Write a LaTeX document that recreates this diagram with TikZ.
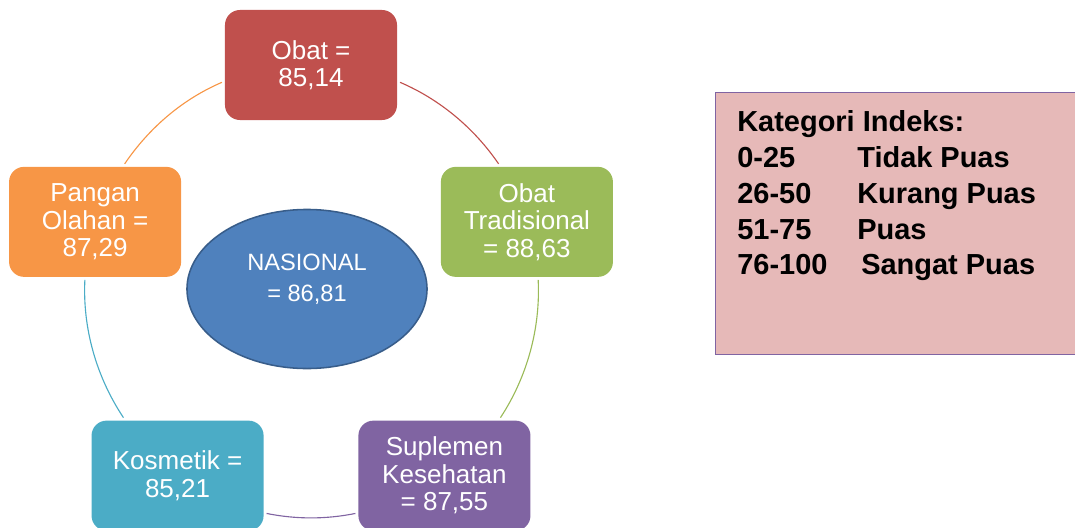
\documentclass[tikz,border=0pt]{standalone}
\usepackage{fontspec}
\setmainfont{Liberation Sans}
\usetikzlibrary{shapes.geometric,positioning}

\definecolor{merah}{HTML}{C0504D}
\definecolor{hijau}{HTML}{9BBB59}
\definecolor{ungu}{HTML}{8064A2}
\definecolor{biru}{HTML}{4BACC6}
\definecolor{oranye}{HTML}{F79646}
\definecolor{nasbiru}{HTML}{4F81BD}
\definecolor{nasgaris}{HTML}{385D8A}
\definecolor{legendamerah}{HTML}{E6B9B8}

\begin{document}
\begin{tikzpicture}[x=0.025cm,y=0.025cm,
  kotak/.style={shape=rectangle,rounded corners=0.375cm,minimum width=4.3cm,minimum height=2.75cm,
    inner sep=0,outer sep=0.075cm,text=white,align=center,font=\fontsize{18.5}{19.5}\selectfont},
  busur/.style={line width=0.8pt,looseness=0.87},
  pusat/.style={shape=ellipse,minimum width=6cm,minimum height=3.975cm,fill=nasbiru,draw=nasgaris,line width=1.1pt}]
\clip (-311,-235) rectangle (764,292);
% lingkaran indeks per sektor
\foreach \nama/\sudut/\warna/\isi in {obat/90/merah/{Obat =\\85,14},
  trad/18/hijau/{Obat\\Tradisional\\= 88,63},
  suplemen/-54/ungu/{Suplemen\\Kesehatan\\= 87,55},
  kosmetik/-126/biru/{Kosmetik =\\85,21},
  pangan/162/oranye/{Pangan\\Olahan =\\87,29}}{%
  \node[kotak,fill=\warna] (\nama) at (\sudut:227) {\isi};}
\foreach \dari/\ke/\a/\b/\o/\i/\warna in {obat/trad/-11.6/116.2/-23.2/124.4/merah,
  trad/suplemen/-79.6/46.3/-87.2/56.7/hijau,
  suplemen/kosmetik/203.7/-23.7/-168.6/-11.4/ungu,
  kosmetik/pangan/133.7/-100.4/123.7/-92.8/biru,
  pangan/obat/63.8/191.6/55.8/203.2/oranye}{%
  \draw[busur,draw=\warna] (\dari.\a) to[out=\o,in=\i] (\ke.\b);}
% nasional
\node[pusat] (nasional) at (-4,3) {};
\node[text=white,align=center,inner sep=0,font=\fontsize{16.8}{21.8}\selectfont] (nasionalteks) at (-4,13) {NASIONAL\\= 86,81};
% legenda
\node[shape=rectangle,anchor=north west,minimum width=9.5cm,minimum height=6.55cm,fill=legendamerah,draw=ungu,line width=0.7pt] (legenda) at (404,200) {};
\node[below right=0.465cm and 0.55cm of legenda.north west,anchor=north west,inner sep=0,align=left,
  font=\fontsize{20.6}{25.4}\selectfont\bfseries] (kategori) {Kategori Indeks:\\
  \makebox[3cm][l]{0-25}Tidak Puas\\
  \makebox[3cm][l]{26-50}Kurang Puas\\
  \makebox[3cm][l]{51-75}Puas\\
  \makebox[3.1cm][l]{76-100}Sangat Puas};
\end{tikzpicture}
\end{document}
